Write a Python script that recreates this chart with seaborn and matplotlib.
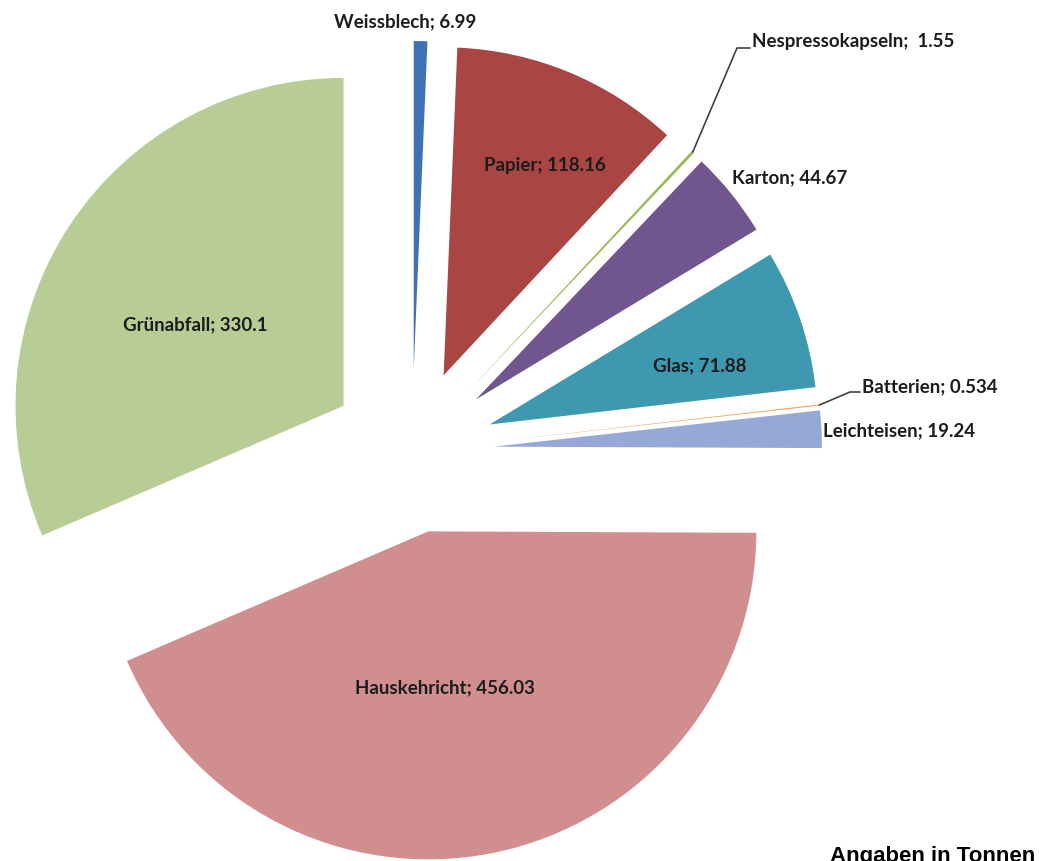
import numpy as np
import matplotlib
matplotlib.use("Agg")
import matplotlib.pyplot as plt
import seaborn as sns

# ── data ─────────────────────────────────────────────────────────────────────
categories = ["Weissblech", "Papier", "Nespressokapseln", "Karton", "Glas",
              "Batterien", "Leichteisen", "Hauskehricht", "Grünabfall"]
values = [6.99, 118.16, 1.55, 44.67, 71.88, 0.534, 19.24, 456.03, 330.1]
value_text = ["6.99", "118.16", "1.55", "44.67", "71.88", "0.534", "19.24", "456.03", "330.1"]
colors = ["#3F72B4", "#A94543", "#9BBB59", "#70558F", "#3E98B0",
          "#F79646", "#95A8D6", "#D08F8E", "#B8CD95"]

# ── layout (pixels of the 1039x861 canvas) ───────────────────────────────────
W, H = 1039, 861
CX, CY, R = 412, 451, 328        # pie centre and radius in pixels
EXPLODE = 0.25


def to_data(px, py):
    return (px - CX) / R, (CY - py) / R


sns.set_theme(style="white")
plt.rcParams["font.family"] = ["Lato", "DejaVu Sans"]

fig = plt.figure(figsize=(W / 100, H / 100), dpi=100)
ax = fig.add_axes([0, 0, 1, 1])

wedges, _ = ax.pie(values, colors=colors, startangle=90, counterclock=False,
                   explode=[EXPLODE] * len(values), radius=1,
                   wedgeprops=dict(linewidth=0))
ax.set_xlim(to_data(0, 0)[0], to_data(W, 0)[0])
ax.set_ylim(to_data(0, H)[1], to_data(0, 0)[1])
ax.set_aspect("equal")
ax.axis("off")

# label anchor positions (pixels) and alignment
label_pos = {
    "Weissblech":       (405, 22, "center"),
    "Papier":           (545, 165, "center"),
    "Nespressokapseln": (752, 42, "left"),
    "Karton":           (732, 178, "left"),
    "Glas":             (700, 366, "center"),
    "Batterien":        (862, 387, "left"),
    "Leichteisen":      (823, 431, "left"),
    "Hauskehricht":     (445, 688, "center"),
    "Grünabfall":       (195, 325, "center"),
}

for cat, val in zip(categories, value_text):
    px, py, ha = label_pos[cat]
    sep = ";  " if cat == "Nespressokapseln" else "; "
    x, y = to_data(px, py)
    ax.text(x, y, f"{cat}{sep}{val}", ha=ha, va="center", fontsize=13.5,
            fontweight="bold", color="#1c1c1c")

# leader lines for the two tiny slices
def outer_point(w):
    th = np.deg2rad((w.theta1 + w.theta2) / 2)
    return w.center[0] + w.r * np.cos(th), w.center[1] + w.r * np.sin(th)

for cat, knee in [("Nespressokapseln", (737, 48)), ("Batterien", (850, 392))]:
    w = wedges[categories.index(cat)]
    x0, y0 = outer_point(w)
    kx, ky = to_data(*knee)
    px, py, _ = label_pos[cat]
    ex, ey = to_data(px - 2, knee[1])
    ax.plot([x0, kx, ex], [y0, ky, ey], color="#404040", linewidth=1.2)

# caption sits at the lower canvas edge, as in the original screenshot
tx, ty = to_data(830, 862)
ax.text(tx, ty, "Angaben in Tonnen", ha="left", va="baseline", fontsize=16,
        fontweight="bold", color="black", family=["Liberation Sans", "DejaVu Sans"])

fig.savefig("out.png", dpi=100)
